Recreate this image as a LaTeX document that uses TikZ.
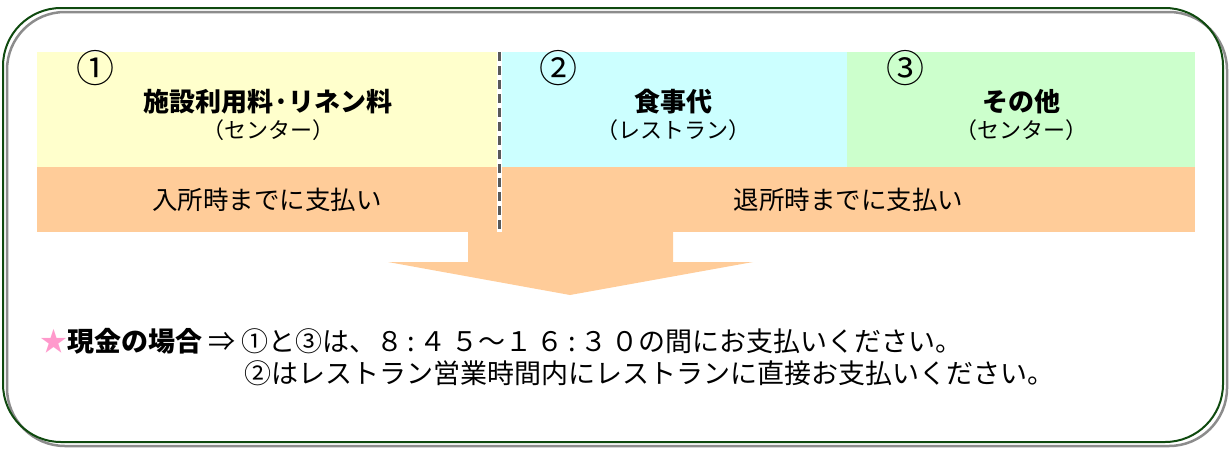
\documentclass[tikz,border=0pt]{standalone}
\usepackage{fontspec}
\setmainfont{Noto Sans CJK JP}
\usetikzlibrary{positioning}
\definecolor{framegreen}{HTML}{0F4A0F}
\definecolor{feeyellow}{HTML}{FFFFCC}
\definecolor{mealcyan}{HTML}{CCFFFF}
\definecolor{othergreen}{HTML}{CCFFCC}
\definecolor{payorange}{HTML}{FFCC99}
\definecolor{starpink}{HTML}{FF99CC}

\begin{document}
\begin{tikzpicture}[x=1pt, y=-1pt,
    cell/.style={anchor=north west, inner sep=0pt, outer sep=0pt},
    num/.style={font=\fontsize{38}{40}\selectfont, inner sep=0pt},
    ttl/.style={font=\fontsize{26}{28}\selectfont\bfseries, inner sep=0pt},
    sub/.style={font=\fontsize{22}{24}\selectfont, inner sep=0pt},
    pay/.style={font=\fontsize{25.5}{28}\selectfont, inner sep=0pt},
    note/.style={font=\fontsize{27}{30}\selectfont, anchor=west, inner sep=0pt}
]
\useasboundingbox (0,0) rectangle (1230,448);

% Frame with shadow
\draw[black!45, line width=2.5pt, rounded corners=58pt] (7,12) rectangle (1227,446);
\draw[framegreen, line width=2pt, rounded corners=58pt] (3,8) rectangle (1223,442);

% Fee boxes
\node[cell, fill=feeyellow, minimum width=460pt, minimum height=115pt] (fee) at (37,52) {};
\node[cell, fill=mealcyan, minimum width=345pt, minimum height=115pt] (meal) at (502,52) {};
\node[cell, fill=othergreen, minimum width=348pt, minimum height=115pt] (other) at (847,52) {};

% Payment timing bands
\node[cell, fill=payorange, minimum width=460pt, minimum height=65pt] (payin) at (37,167) {};
\node[cell, fill=payorange, minimum width=693pt, minimum height=65pt] (payout) at (502,167) {};

% Divider
\draw[black!65, line width=3pt, dash pattern=on 9pt off 5pt] (499,52) -- (499,232);

% Big arrow
\fill[payorange] (468,232) -- (673,232) -- (673,262) -- (753,262) -- (570,295)
    -- (388,262) -- (468,262) -- cycle;

% Labels in boxes
\node[num] (feenum) at (95,68) {①};
\node[ttl] (feettl) at (268,102) {施設利用料·リネン料};
\node[sub] (feesub) at (268,130) {（センター）};

\node[num] (mealnum) at (558,68) {②};
\node[ttl] (mealttl) at (673,102) {食事代};
\node[sub] (mealsub) at (673,130) {（レストラン）};

\node[num] (othernum) at (905,68) {③};
\node[ttl] (otherttl) at (1021,102) {その他};
\node[sub] (othersub) at (1021,130) {（センター）};

\node[pay] (payintxt) at (payin.center) {入所時までに支払い};
\node[pay] (payouttxt) at (payout.center) {退所時までに支払い};

% Cash note
\node[note] (cash) at (40,341) {\textcolor{starpink}{★}\textbf{現金の場合} ⇒ ①と③は、８\,:\,４\,５～１\,６\,:\,３\,０の間にお支払いください。};
\node[note] (rest) at (244,373) {②はレストラン営業時間内にレストランに直接お支払いください。};

\end{tikzpicture}
\end{document}
